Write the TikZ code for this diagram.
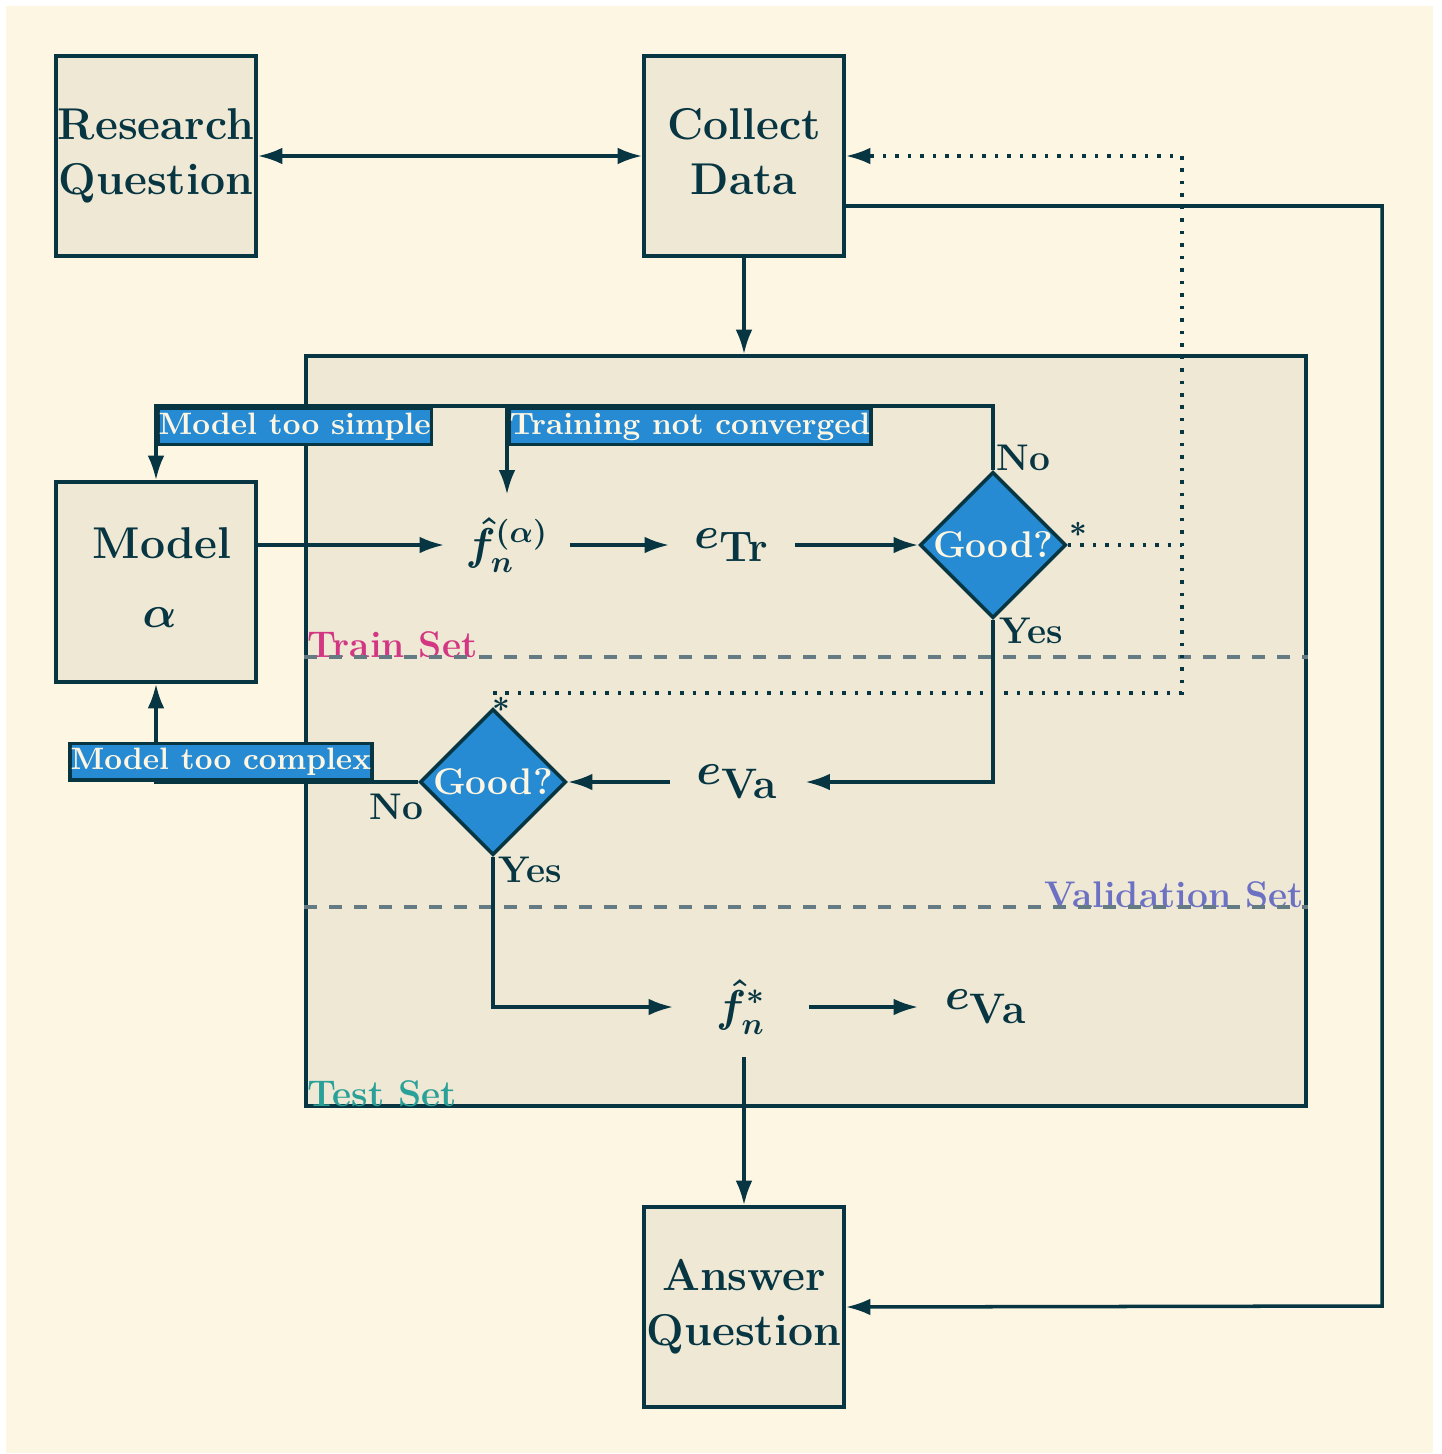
\documentclass[tikz,border=0pt]{standalone}
\usepackage{graphicx}
\usetikzlibrary{shapes.geometric,arrows.meta}
\definecolor{bgc}{HTML}{FDF6E3}
\definecolor{boxc}{HTML}{EEE8D5}
\definecolor{linec}{HTML}{073642}
\definecolor{bluec}{HTML}{268BD2}
\definecolor{magc}{HTML}{D33682}
\definecolor{violc}{HTML}{6C71C4}
\definecolor{cyanc}{HTML}{2AA198}
\definecolor{grayc}{HTML}{657B83}
\newcommand{\magn}[1]{\scalebox{1.76}{\bfseries\boldmath #1}}
\newcommand{\boxtext}[2]{\magn{\Large\begin{tabular}{@{}c@{}}#1\\#2\end{tabular}}}
\newcommand{\errsub}[1]{\magn{\Large$e_{\mbox{\scalebox{1.15}{\large #1}}}$}}
\tikzset{
  every node/.style={text=linec},
  mainbox/.style={draw=linec, fill=boxc, line width=2pt, minimum width=4cm, minimum height=4cm, inner sep=0pt},
  mathnode/.style={minimum width=2.5cm, minimum height=2cm, inner sep=0pt},
  widemath/.style={mathnode, minimum width=2.7cm},
  dec/.style={diamond, aspect=1, draw=linec, fill=bluec, line width=2pt, minimum width=2.88cm, minimum height=2.88cm, inner sep=0pt, text=bgc},
  lbl/.style={draw=linec, fill=bluec, line width=2pt, text=bgc, inner xsep=0.5pt, inner ysep=0.5pt, text height=14.5pt, text depth=5.5pt},
  yn/.style={inner sep=0pt},
  conn/.style={draw=linec, line width=2pt, -{Latex[length=14pt,width=9.5pt]}},
  dotline/.style={draw=linec, line width=2pt, dash pattern=on 2pt off 5.1pt},
  dashline/.style={draw=grayc, line width=2pt, dash pattern=on 7.4pt off 6.8pt},
}
\begin{document}
\begin{tikzpicture}[x=0.02cm,y=-0.02cm]
\useasboundingbox (0,0) rectangle (1441,1454);
\fill[white] (0,0) rectangle (1441,1454);
\fill[bgc] (6,6) rectangle (1433,1453);

% big region
\node[draw=linec, fill=boxc, line width=2pt, minimum width=20cm, minimum height=15cm, inner sep=0pt] (big) at (806,731) {};

% main boxes
\node[mainbox] (RQ) at (156,156) {\boxtext{Research}{Question}};
\node[mainbox] (CD) at (744,156) {\boxtext{Collect}{Data}};
\node[mainbox] (MA) at (156,582) {\magn{\Large\begin{tabular}{@{}c@{}}\hspace*{3.9pt}Model\\[4.5pt]\hspace*{2.3pt}$\alpha$\end{tabular}}};
\node[mainbox] (AQ) at (744,1307) {\boxtext{Answer}{Question}};

% math nodes
\node[mathnode] (f) at (507,545) {\magn{\Large$\hat{f}_n^{(\alpha)}$}};
\node[mathnode] (eTr) at (732,545) {\errsub{Tr}};
\node[widemath] (eVa) at (737.5,782) {\errsub{Va}};
\node[widemath] (fs) at (741,1007) {\magn{\Large$\hat{f}_n^{*}$}};
\node[widemath] (eVb) at (986,1007) {\errsub{Va}};

% decisions
\node[dec] (d1) at (993,545) {\magn{\large Good?}};
\node[dec] (d2) at (493,782) {\magn{\large Good?}};

% set labels
\node[yn, text=magc, anchor=base west] (trs) at (307,657) {\magn{\large Train Set}};
\node[yn, text=violc, anchor=base east] (vas) at (1304,907) {\magn{\large Validation Set}};
\node[yn, text=cyanc, anchor=base west] (tes) at (307,1106) {\magn{\large Test Set}};

% dashed separators
\draw[dashline] (big.west |- trs.base) -- (big.east |- trs.base);
\draw[dashline] (big.west |- vas.base) -- (big.east |- vas.base);

% coordinates
\coordinate (tl) at (156,406);
\coordinate (dc) at (1182,693);
\coordinate (rc) at (1382,1306);

% connectors
\draw[conn, {Latex[length=14pt,width=9.5pt]}-{Latex[length=14pt,width=9.5pt]}] (RQ.east) -- (CD.west);
\draw[conn] (CD.south) -- (CD.south |- big.north);
\draw[conn] ([yshift=-1cm]CD.east) -| (rc) -- (AQ.east);
\draw[conn] (MA.east |- f.west) -- (f.west);
\draw[conn] (f.east) -- (eTr.west);
\draw[conn] (eTr.east) -- (d1.west);
\draw[conn] (d1.north) |- (tl) -- (MA.north);
\draw[conn] (f.north |- tl) -- (f.north);
\draw[conn] (d1.south) |- (eVa.east);
\draw[conn] (eVa.west) -- (d2.east);
\draw[conn] (d2.west) -| (MA.south);
\draw[conn] (d2.south) |- (fs.west);
\draw[conn] (fs.east) -- (eVb.west);
\draw[conn] (AQ.north |- fs.south) -- (AQ.north);

% dotted
\draw[dotline] (d1.east) -- (d1.east -| dc);
\draw[dotline, -{Latex[length=14pt,width=9.5pt]}] (d2.north |- dc) -- (dc) |- (CD.east);

% branch labels
\node[lbl, anchor=north west] (lsimple) at (tl) {\magn{Model too simple}};
\node[lbl, anchor=north west] (lconv) at (f.north |- tl) {\magn{Training not converged}};
\node[lbl, anchor=south west] (lcomplex) at (68,782) {\magn{Model too complex}};

% yes / no
\node[yn, anchor=base west] (no1) at (996,470) {\magn{\large No}};
\node[yn, anchor=base west] (yes1) at (999,643) {\magn{\large Yes}};
\node[yn, anchor=base west] (no2) at (369,819) {\magn{\large No}};
\node[yn, anchor=base west] (yes2) at (498,882) {\magn{\large Yes}};
\node[yn] (st1) at (1078,534) {\magn{*}};
\node[yn] (st2) at (501,709) {\magn{*}};
\end{tikzpicture}
\end{document}
